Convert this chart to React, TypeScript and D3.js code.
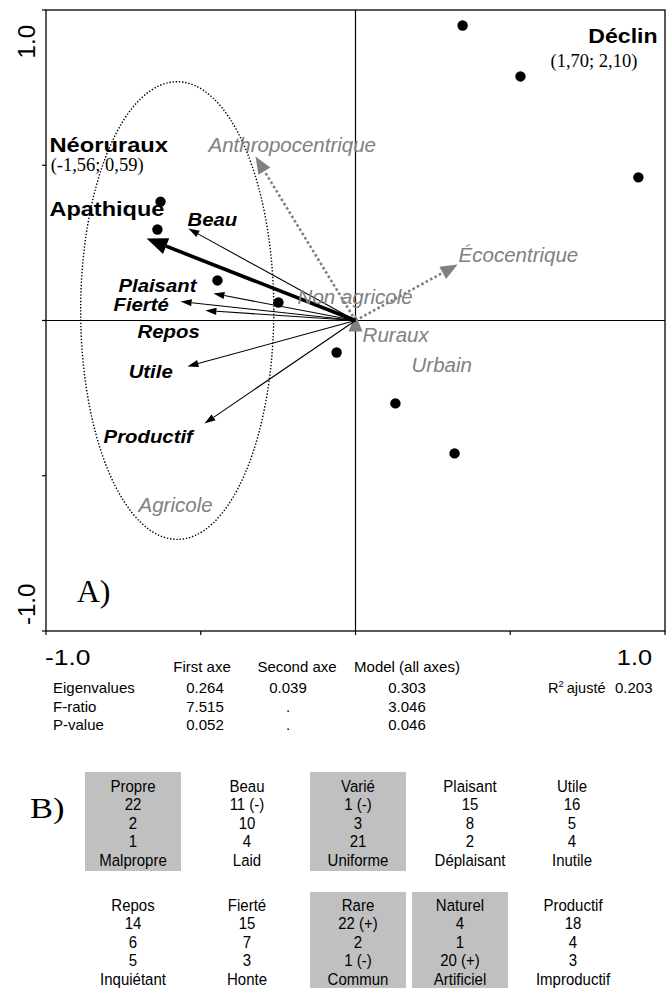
import React from 'react';
import * as d3 from 'd3';

const W = 666;
const H = 988;

// Site scores on the first two constrained axes
const siteX = [0.346, 0.533, 0.914, -0.630, -0.640, -0.446, -0.249, -0.061, 0.129, 0.320];
const siteY = [0.950, 0.786, 0.461, 0.383, 0.293, 0.129, 0.058, -0.103, -0.267, -0.428];

// Perception descriptors (black arrows)
const descNames = ['Beau', 'Plaisant', 'Fierté', 'Repos', 'Utile', 'Productif'];
const descX = [-0.540, -0.459, -0.565, -0.485, -0.543, -0.488];
const descY = [0.296, 0.087, 0.061, 0.032, -0.148, -0.332];

// Attitude "Apathique" (thick arrow)
const apathX = -0.675;
const apathY = 0.264;

// Supplementary variables (grey dotted arrows)
const suppNames = ['Anthropocentrique', 'Écocentrique', 'Ruraux'];
const suppX = [-0.323, 0.330, 0.0];
const suppY = [0.528, 0.180, 0.019];

// Agricole group envelope (centre and radii in axis units)
const envCentre = [-0.576, 0.032];
const envRadii = [0.312, 0.737];

// Axis ticks
const axisTicks = [-1, -0.5, 0, 0.5, 1];

// Outlier groups shown off-scale
const offNames = ['Néoruraux', 'Déclin'];
const offCoords = ['(-1,56; 0,59)', '(1,70; 2,10)'];

// Constrained ordination statistics
const statCols = ['First axe', 'Second axe', 'Model (all axes)'];
const statRows = ['Eigenvalues', 'F-ratio', 'P-value'];
const eigenvalues = ['0.264', '0.039', '0.303'];
const fRatio = ['7.515', '.', '3.046'];
const pValue = ['0.052', '.', '0.046'];
const r2Adjusted = '0.203';

// Semantic differential pairs: positive pole, negative pole, counts, flags
const posPoles = ['Propre', 'Beau', 'Varié', 'Plaisant', 'Utile', 'Repos', 'Fierté', 'Rare', 'Naturel', 'Productif'];
const negPoles = ['Malpropre', 'Laid', 'Uniforme', 'Déplaisant', 'Inutile', 'Inquiétant', 'Honte', 'Commun', 'Artificiel', 'Improductif'];
const posCounts = ['22', '11 (-)', '1 (-)', '15', '16', '14', '15', '22 (+)', '4', '18'];
const midCounts = ['2', '10', '3', '8', '5', '6', '7', '2', '1', '4'];
const negCounts = ['1', '4', '21', '2', '4', '5', '3', '1 (-)', '20 (+)', '3'];
const shadedPairs = [true, false, true, false, false, false, false, true, true, false];

const x = d3.scaleLinear().domain([-1, 1]).range([46, 665]);
const y = d3.scaleLinear().domain([-1, 1]).range([631, 10]);

const GREY = '#808080';
const SANS = '"Liberation Sans", Arial, Helvetica, sans-serif';
const SERIF = '"Liberation Serif", "Times New Roman", Times, serif';

function arrowHead(x0: number, y0: number, x1: number, y1: number, len: number, half: number) {
  const dx = x1 - x0;
  const dy = y1 - y0;
  const d = Math.hypot(dx, dy) || 1;
  const ux = dx / d;
  const uy = dy / d;
  const bx = x1 - ux * len;
  const by = y1 - uy * len;
  const nx = -uy;
  const ny = ux;
  return {
    points: `${x1},${y1} ${bx + nx * half},${by + ny * half} ${bx - nx * half},${by - ny * half}`,
    bx,
    by,
  };
}

type TProps = {
  x: number;
  y: number;
  size: number;
  children: React.ReactNode;
  family?: string;
  weight?: string | number;
  italic?: boolean;
  fill?: string;
  anchor?: 'start' | 'middle' | 'end';
  sx?: number;
  sy?: number;
  rotate?: number;
};

function T({ x: tx, y: ty, size, children, family = SANS, weight = 'normal', italic = false, fill = '#000', anchor = 'start', sx = 1, sy = 1, rotate = 0 }: TProps) {
  return (
    <text
      transform={`translate(${tx},${ty}) rotate(${rotate}) scale(${sx},${sy})`}
      fontSize={size}
      fontFamily={family}
      fontWeight={weight}
      fontStyle={italic ? 'italic' : 'normal'}
      fill={fill}
      textAnchor={anchor}
    >
      {children}
    </text>
  );
}

// Label anchors in axis units
const descLabelPos: [number, number][] = [
  [-0.543, 0.303],
  [-0.766, 0.093],
  [-0.782, 0.029],
  [-0.704, -0.055],
  [-0.733, -0.184],
  [-0.814, -0.393],
];
const suppLabels: { t: string; p: [number, number] }[] = [
  { t: 'Anthropocentrique', p: [-0.475, 0.544] },
  { t: 'Écocentrique', p: [0.333, 0.190] },
  { t: 'Non agricole', p: [-0.187, 0.052] },
  { t: 'Ruraux', p: [0.023, -0.068] },
  { t: 'Urbain', p: [0.181, -0.167] },
  { t: 'Agricole', p: [-0.701, -0.618] },
];

export default function App() {
  const ox = x(0);
  const oy = y(0);

  const thin = descNames.map((n, i) => {
    const tx = x(descX[i]);
    const ty = y(descY[i]);
    const h = arrowHead(ox, oy, tx, ty, 11, 3.6);
    return (
      <g key={n}>
        <line x1={ox} y1={oy} x2={h.bx} y2={h.by} stroke="#000" strokeWidth={1.1} />
        <polygon points={h.points} fill="#000" />
      </g>
    );
  });

  const ax = x(apathX);
  const ay = y(apathY);
  const ah = arrowHead(ox, oy, ax, ay, 21, 8.5);

  const grey = suppNames.map((n, i) => {
    const tx = x(suppX[i]);
    const ty = y(suppY[i]);
    const h = arrowHead(ox, oy, tx, ty, 17, 7);
    const long = Math.hypot(tx - ox, ty - oy) > 17;
    return (
      <g key={n}>
        {long && (
          <line x1={ox} y1={oy} x2={h.bx} y2={h.by} stroke={GREY} strokeWidth={2.6} strokeDasharray="2.6 2.4" />
        )}
        <polygon points={h.points} fill={GREY} />
      </g>
    );
  });

  const rowCentres = [
    [133, 247, 358, 470, 572],
    [133, 247, 358, 460, 573],
  ];
  const rowBase = [792, 911];
  const lineStep = 18.4;

  return (
    <div style={{ position: 'absolute', left: 0, top: 0 }}>
      <svg width={W} height={H} viewBox={`0 0 ${W} ${H}`} style={{ display: 'block', background: '#fff' }}>
        {/* frame */}
        <rect x={x(-1)} y={y(1)} width={x(1) - x(-1)} height={y(-1) - y(1)} fill="none" stroke="#000" strokeWidth={1.3} />
        {/* zero lines */}
        <line x1={x(0)} x2={x(0)} y1={y(1)} y2={y(-1)} stroke="#000" strokeWidth={1.2} />
        <line x1={x(-1)} x2={x(1)} y1={y(0)} y2={y(0)} stroke="#000" strokeWidth={1.2} />
        {/* ticks */}
        {axisTicks.map((t) => (
          <g key={`t${t}`}>
            <line x1={x(t)} x2={x(t)} y1={y(-1)} y2={y(-1) + 4} stroke="#000" strokeWidth={1.2} />
            <line x1={x(-1)} x2={x(-1) - 4} y1={y(t)} y2={y(t)} stroke="#000" strokeWidth={1.2} />
          </g>
        ))}
        {/* axis labels */}
        <T x={35} y={25} size={24} anchor="end" rotate={-90}>1.0</T>
        <T x={35} y={625} size={24} anchor="start" rotate={-90}>-1.0</T>
        <T x={x(-1) - 1} y={665} size={22} sx={1.2}>-1.0</T>
        <T x={652} y={665} size={22} anchor="end" sx={1.15}>1.0</T>

        {/* Agricole envelope */}
        <ellipse
          cx={x(envCentre[0])}
          cy={y(envCentre[1])}
          rx={x(envRadii[0]) - x(0)}
          ry={y(0) - y(envRadii[1])}
          fill="none"
          stroke="#000"
          strokeWidth={1.4}
          strokeDasharray="1.4 1.8"
        />

        {/* sites */}
        {siteX.map((v, i) => (
          <circle key={`s${i}`} cx={x(v)} cy={y(siteY[i])} r={5.2} fill="#000" />
        ))}

        {/* supplementary arrows */}
        {grey}

        {/* descriptor arrows */}
        {thin}
        <line x1={ox} y1={oy} x2={ah.bx} y2={ah.by} stroke="#000" strokeWidth={3.6} />
        <polygon points={ah.points} fill="#000" />

        {/* supplementary labels */}
        {suppLabels.map((l) => (
          <T key={l.t} x={x(l.p[0])} y={y(l.p[1])} size={20.5} italic fill={GREY}>
            {l.t}
          </T>
        ))}

        {/* descriptor labels */}
        {descNames.map((n, i) => (
          <T key={`l${n}`} x={x(descLabelPos[i][0])} y={y(descLabelPos[i][1])} size={18.5} weight="bold" italic sx={1.1}>
            {n}
          </T>
        ))}

        {/* group labels */}
        <T x={x(-0.989)} y={y(0.544)} size={21} weight="bold" sx={1.13}>{offNames[0]}</T>
        <T x={x(-0.985)} y={y(0.480)} size={18.5} family={SERIF}>{offCoords[0]}</T>
        <T x={x(-0.989)} y={y(0.335)} size={21} weight="bold" sx={1.12}>Apathique</T>
        <T x={x(0.976)} y={y(0.895)} size={21} weight="bold" anchor="end" sx={1.1}>{offNames[1]}</T>
        <T x={x(0.630)} y={y(0.815)} size={18.5} family={SERIF}>{offCoords[1]}</T>
        <T x={x(-0.901)} y={y(-0.908)} size={32} family={SERIF}>A)</T>

        {/* statistics table */}
        {statCols.map((c, i) => (
          <T key={c} x={[202, 297, 407][i]} y={672} size={15} anchor="middle">{c}</T>
        ))}
        {statRows.map((r, i) => (
          <T key={r} x={53} y={[693, 712, 730][i]} size={15}>{r}</T>
        ))}
        {[eigenvalues, fRatio, pValue].map((row, ri) =>
          row.map((v, ci) => (
            <T key={`v${ri}${ci}`} x={[205, 288, 407][ci]} y={[693, 712, 730][ri]} size={15} anchor="middle">{v}</T>
          ))
        )}
        <text x={548} y={693} fontSize={14.5} fontFamily={SANS}>
          R<tspan fontSize={9.5} dy={-6}>2</tspan>
          <tspan dy={6} dx={3}>ajusté</tspan>
        </text>
        <T x={615} y={693} size={15}>{r2Adjusted}</T>

        {/* B) semantic differential table */}
        <T x={30} y={818} size={30} family={SERIF} sx={1.15}>B)</T>
        {posPoles.map((p, i) => {
          const row = i < 5 ? 0 : 1;
          const cx = rowCentres[row][i % 5];
          const base = rowBase[row];
          const top = row === 0 ? 772 : 892;
          const lines = [p, posCounts[i], midCounts[i], negCounts[i], negPoles[i]];
          return (
            <g key={p}>
              {shadedPairs[i] && <rect x={cx - 48} y={top} width={96} height={row === 0 ? 99 : 100} fill="#c0c0c0" />}
              {lines.map((t, k) => (
                <T key={k} x={cx} y={base + k * lineStep} size={15} anchor="middle" sy={1.1}>{t}</T>
              ))}
            </g>
          );
        })}
      </svg>
    </div>
  );
}
